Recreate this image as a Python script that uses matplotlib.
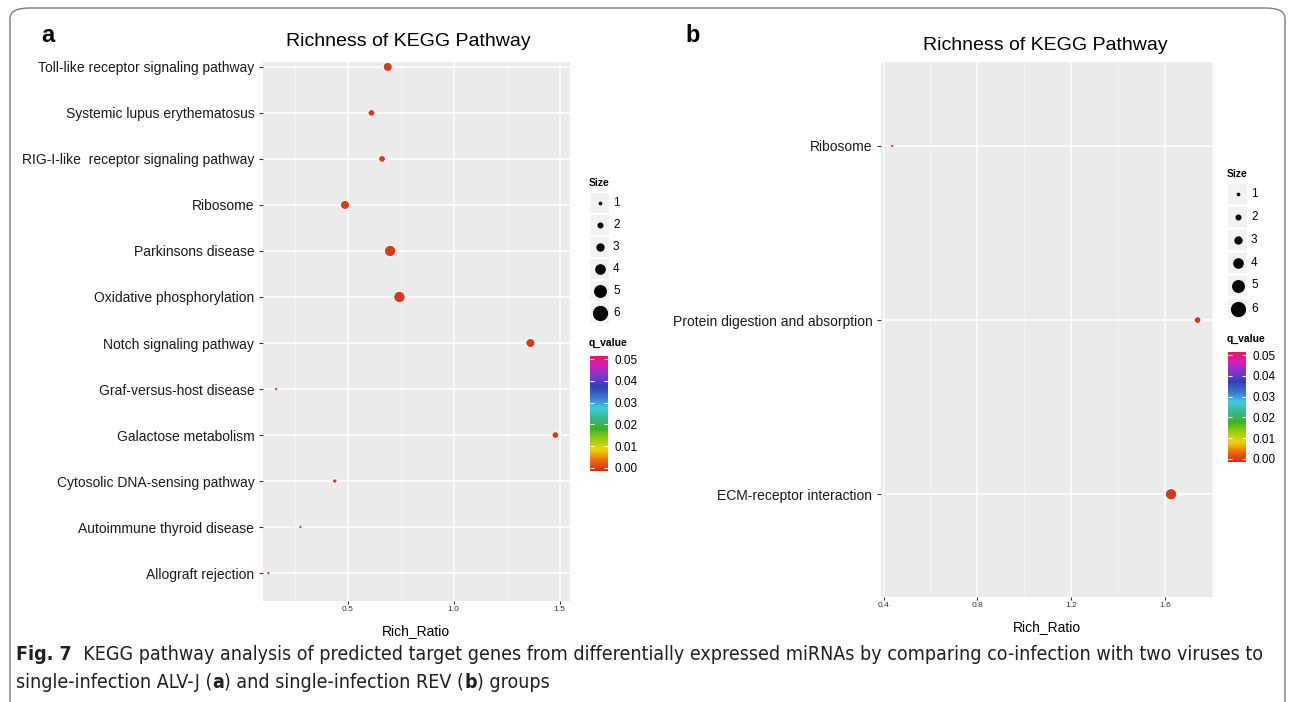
import numpy as np
import matplotlib
matplotlib.use('Agg')
import matplotlib.pyplot as plt
from matplotlib.colors import LinearSegmentedColormap, Normalize
from matplotlib.patches import FancyBboxPatch, Rectangle
from matplotlib import font_manager

# panel a data
path_a = ['Toll-like receptor signaling pathway', 'Systemic lupus erythematosus',
          'RIG-I-like  receptor signaling pathway', 'Ribosome', 'Parkinsons disease',
          'Oxidative phosphorylation', 'Notch signaling pathway', 'Graf-versus-host disease',
          'Galactose metabolism', 'Cytosolic DNA-sensing pathway', 'Autoimmune thyroid disease',
          'Allograft rejection']
ratio_a = [0.689, 0.612, 0.662, 0.487, 0.700, 0.744, 1.362, 0.162, 1.480, 0.439, 0.277, 0.126]
size_a = [4, 3, 3, 4, 5, 5, 4, 1, 3, 2, 1, 1]
q_a = [0.001] * 12

# panel b data
path_b = ['Ribosome', 'Protein digestion and absorption', 'ECM-receptor interaction']
ratio_b = [0.4375, 1.739, 1.626]
size_b = [1, 3, 5]
q_b = [0.001] * 3

size_breaks = [1, 2, 3, 4, 5, 6]
size_labels = ['1', '2', '3', '4', '5', '6']
q_ticks = [0.00, 0.01, 0.02, 0.03, 0.04, 0.05]

W, H = 1293, 702
plt.rcParams['font.family'] = ['Liberation Sans', 'DejaVu Sans']
fig = plt.figure(figsize=(W / 100, H / 100), dpi=100)

def px_axes(l, t, r, b):
    return fig.add_axes([l / W, 1 - b / H, (r - l) / W, (b - t) / H])

cmap = LinearSegmentedColormap.from_list('q', [
    '#d42a1c', '#ee6a12', '#f4d400', '#9ccc10', '#3cb41c', '#3ab88a', '#40c8e0',
    '#3a78d0', '#3040b8', '#7a38c8', '#d020c0', '#e8185a'])
norm = Normalize(0, 0.05)

def dot(s):
    # diameter in px -> scatter area in pt^2
    return (2.3 * np.asarray(s, dtype=float) * 0.72) ** 2

def panel(ax, labels, ratio, size, q, xlim, ylim, major, minor, title_x, title_y):
    n = len(labels)
    y = np.arange(n)[::-1]
    ax.set_facecolor('#EBEBEB')
    ax.set_xlim(*xlim)
    ax.set_ylim(*ylim)
    ax.set_xticks(major)
    ax.set_xticks(minor, minor=True)
    ax.set_xticklabels(['%.1f' % v for v in major])
    ax.set_yticks(y)
    ax.set_yticklabels(labels)
    ax.grid(True, which='major', color='white', lw=1.1)
    ax.grid(True, which='minor', axis='x', color='#F5F5F5', lw=0.6)
    ax.set_axisbelow(True)
    for sp in ax.spines.values():
        sp.set_visible(False)
    ax.tick_params(axis='y', length=3, width=0.8, color='#333333', pad=3,
                   labelsize=10, labelcolor='#1a1a1a')
    ax.tick_params(axis='x', length=2.5, width=0.8, color='#333333', pad=1,
                   labelsize=6, labelcolor='#333333')
    ax.tick_params(which='minor', length=0)
    lw = [0.0 if s <= 1 else 0.8 for s in size]
    ax.scatter(ratio, y, s=dot(size), c=cmap(norm(q)), edgecolors='white',
               linewidths=lw, zorder=3)
    ax.set_xlabel('Rich_Ratio', fontsize=10, labelpad=8)
    fig.text(title_x / W, 1 - title_y / H, 'Richness of KEGG Pathway', fontsize=14,
             ha='center', va='center')

def legends(x0, ysize, yq):
    # size legend, drawn in figure pixels
    lax = px_axes(0, 0, W, H)
    lax.set_xlim(0, W)
    lax.set_ylim(H, 0)
    lax.axis('off')
    lax.text(x0 - 1, ysize[0] - 20, 'Size', fontsize=7.5, fontweight='bold', va='center')
    for yk, s, lab in zip(ysize, size_breaks, size_labels):
        lax.add_patch(Rectangle((x0, yk - 10), 19, 20, color='#F2F2F2', lw=0))
        lax.scatter([x0 + 9.5], [yk], s=dot(s), color='black', zorder=3)
        lax.text(x0 + 23, yk, lab, fontsize=8.5, va='center')
    lax.text(x0 - 1, yq[0] - 8, 'q_value', fontsize=7.5, fontweight='bold', va='bottom')
    cax = px_axes(x0, yq[0], x0 + 18, yq[1])
    grad = np.linspace(0, 0.05, 256).reshape(-1, 1)
    cax.imshow(grad, cmap=cmap, norm=norm, aspect='auto', origin='lower',
               extent=[0, 1, -0.0015, 0.0515])
    cax.set_ylim(-0.0015, 0.0515)
    cax.set_xlim(0, 1)
    cax.set_xticks([])
    cax.set_yticks(q_ticks)
    cax.set_yticklabels(['%.2f' % v for v in q_ticks])
    cax.tick_params(axis='y', right=True, left=True, labelleft=False, labelright=True,
                    direction='in', color='white', length=3, width=0.8, labelsize=8.5, pad=5)
    for sp in cax.spines.values():
        sp.set_visible(False)

ax_a = px_axes(262.7, 62.3, 570, 600.7)
panel(ax_a, path_a, ratio_a, size_a, q_a, (0.099, 1.549), (-0.6, 11.1),
      [0.5, 1.0, 1.5], [0.25, 0.75, 1.25], 408, 42)
ax_b = px_axes(880.7, 62.3, 1213, 597)
panel(ax_b, path_b, ratio_b, size_b, q_b, (0.388, 1.805), (-0.59, 2.48),
      [0.4, 0.8, 1.2, 1.6], [0.6, 1.0, 1.4, 1.8], 1045, 45)

legends(590, [203, 224.5, 246.5, 268.5, 290.5, 312.5], (356, 471))
legends(1228, [194, 217, 240, 262.5, 285.5, 308.5], (352, 462))

# panel letters
fig.text(48 / W, 1 - 36 / H, 'a', fontsize=17, fontweight='bold', va='center', ha='center')
fig.text(693 / W, 1 - 36 / H, 'b', fontsize=17, fontweight='bold', va='center', ha='center')

# frame around the figure
fig.patches.append(FancyBboxPatch((10 / W, -0.05), (1285 - 10) / W, 1 - 8 / H + 0.05,
                                  boxstyle='round,pad=0,rounding_size=0.015',
                                  transform=fig.transFigure, fill=False,
                                  edgecolor='#7a7a7a', lw=1.0, clip_on=False))

# caption: a condensed face if one is installed, size fitted to the original line width
names = {f.name for f in font_manager.fontManager.ttflist}
cap_family = 'Liberation Sans'
cap_stretch = 'normal'
for cand in ['Liberation Sans Narrow', 'DejaVu Sans Condensed']:
    if cand in names:
        cap_family = cand
        break
else:
    if any(f.name == 'DejaVu Sans' and f.stretch == 'condensed' for f in font_manager.fontManager.ttflist):
        cap_family, cap_stretch = 'DejaVu Sans', 'condensed'

capcol = '#231f20'
lines = [[('Fig. 7', 'bold'), ('  KEGG pathway analysis of predicted target genes from differentially '
                               'expressed miRNAs by comparing co-infection with two viruses to', 'normal')],
         [('single-infection ALV-J (', 'normal'), ('a', 'bold'), (') and single-infection REV (', 'normal'),
          ('b', 'bold'), (') groups', 'normal')]]
fig.canvas.draw()
rend = fig.canvas.get_renderer()
fs0 = 12.5
probe = 0.0
for txt, wt in lines[0]:
    t = fig.text(0, 0, txt, fontsize=fs0, fontweight=wt, family=cap_family, fontstretch=cap_stretch)
    probe += t.get_window_extent(rend).width
    t.remove()
fs = min(fs0 * (1262 - 16) / probe, 14.0)
for ypix, pieces in zip([655, 682], lines):
    x = 16.0
    for txt, wt in pieces:
        t = fig.text(x / W, 1 - ypix / H, txt, fontsize=fs, fontweight=wt, family=cap_family,
                     fontstretch=cap_stretch, color=capcol, va='center', ha='left')
        x += t.get_window_extent(rend).width

fig.savefig('out.png', dpi=100)
